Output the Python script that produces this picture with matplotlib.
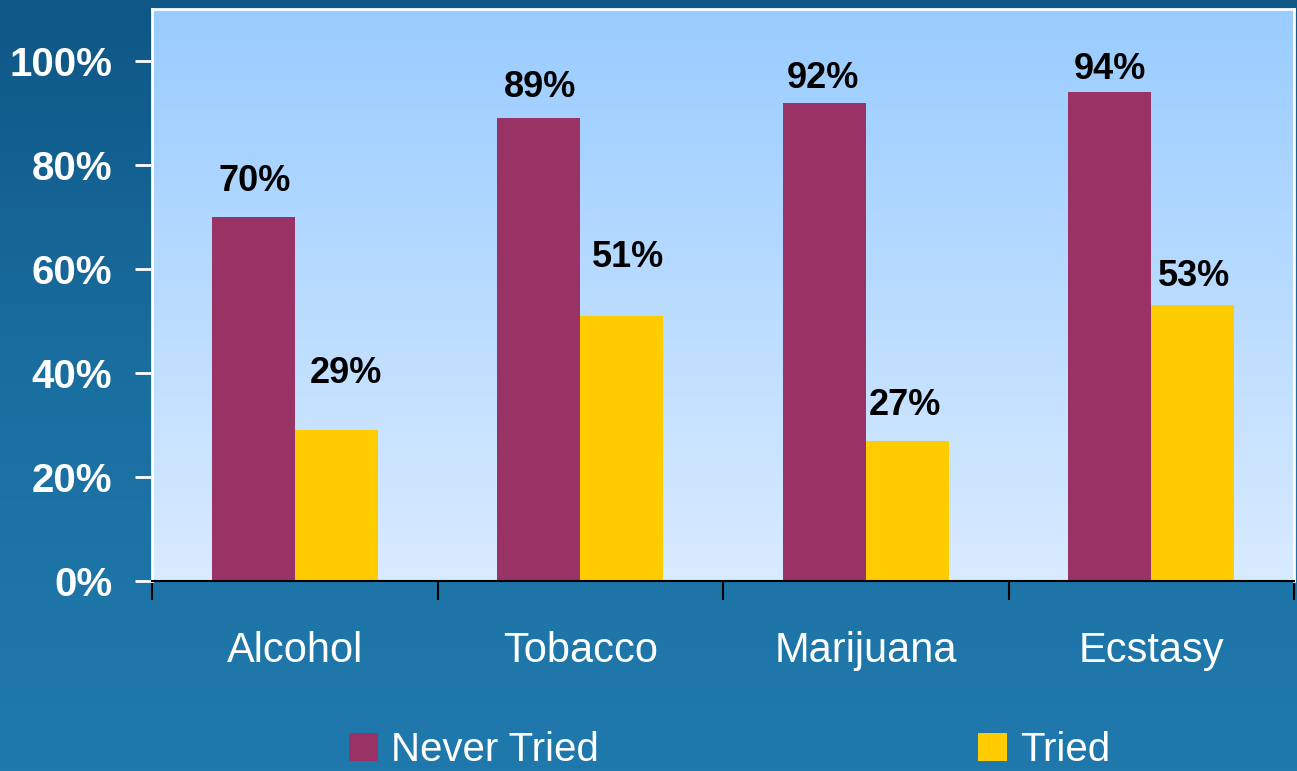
import matplotlib
matplotlib.use('Agg')
import matplotlib.pyplot as plt
import numpy as np
from matplotlib.patches import Patch
from matplotlib.colors import LinearSegmentedColormap

categories = ['Alcohol', 'Tobacco', 'Marijuana', 'Ecstasy']
never_tried = [70, 89, 92, 94]
tried = [29, 51, 27, 53]
series_names = ['Never Tried', 'Tried']
yticks = [0, 20, 40, 60, 80, 100]
ytick_labels = ['0%', '20%', '40%', '60%', '80%', '100%']

# value-label offsets from bar top centre (pixels)
never_offsets = [(1, 26), (1.5, 21), (-1, 15), (0, 13)]
tried_offsets = [(10, 47), (6.5, 49), (-2.5, 26), (1, 19)]

colors = ['#993366', '#ffcc00']

plt.rcParams['font.family'] = ['Liberation Sans', 'DejaVu Sans']

W, H = 1297, 771
fig = plt.figure(figsize=(W / 100, H / 100), dpi=100)

# figure background gradient
bg = fig.add_axes([0, 0, 1, 1], zorder=-10)
grad = np.linspace(0, 1, 256).reshape(-1, 1)
fig_cmap = LinearSegmentedColormap.from_list('fbg', ['#0e5786', '#1a6fa1', '#2079ad'])
bg.imshow(grad, aspect='auto', cmap=fig_cmap, extent=[0, 1, 0, 1], origin='upper')
bg.axis('off')

ax = fig.add_axes([152 / W, 190 / H, 1142 / W, 572 / H])
ax_cmap = LinearSegmentedColormap.from_list('abg', ['#99ccff', '#d9ebff'])
ax.imshow(grad, aspect='auto', cmap=ax_cmap, extent=[-0.5, 3.5, 0, 110],
          origin='upper', zorder=0)

x = np.arange(len(categories))
bw = 0.29
b1 = ax.bar(x - bw / 2, never_tried, bw, color=colors[0], zorder=2)
b2 = ax.bar(x + bw / 2, tried, bw, color=colors[1], zorder=2)

for bars, vals, offs in [(b1, never_tried, never_offsets), (b2, tried, tried_offsets)]:
    for rect, v, (dx, dy) in zip(bars, vals, offs):
        ax.annotate(f'{v}%', xy=(rect.get_x() + rect.get_width() / 2, v),
                    xytext=(dx, dy), textcoords='offset pixels',
                    ha='center', va='baseline', fontsize=26, fontweight='bold',
                    color='black', zorder=3)

ax.set_xlim(-0.5, 3.5)
ax.set_ylim(0, 110)

ax.set_yticks(yticks)
ax.set_yticklabels(ytick_labels)
ax.tick_params(axis='y', direction='out', length=12, width=2, color='white',
               labelcolor='white', labelsize=29, pad=16.5)
for lab in ax.get_yticklabels():
    lab.set_fontweight('bold')

ax.set_xticks(np.arange(-0.5, len(categories), 1.0))
ax.set_xticklabels([])
ax.tick_params(axis='x', which='major', direction='out', length=14, width=1.5, color='black')
ax.set_xticks(x, minor=True)
ax.set_xticklabels(categories, minor=True)
ax.tick_params(axis='x', which='minor', length=0, labelcolor='white', labelsize=30, pad=36)

for side in ['left', 'top', 'right']:
    ax.spines[side].set_color('white')
    ax.spines[side].set_linewidth(2)
ax.spines['bottom'].set_color('black')
ax.spines['bottom'].set_linewidth(1.5)

handles = [Patch(facecolor=c, edgecolor='none') for c in colors]
fig.legend(handles, series_names, ncol=2, loc='lower center', bbox_to_anchor=(0.5625, 0.0),
           frameon=False, fontsize=29, labelcolor='white', handlelength=0.72,
           handleheight=0.72, handletextpad=0.33, columnspacing=9.4,
           borderpad=0.05, borderaxespad=0.0)

fig.savefig('out.png', dpi=100)
